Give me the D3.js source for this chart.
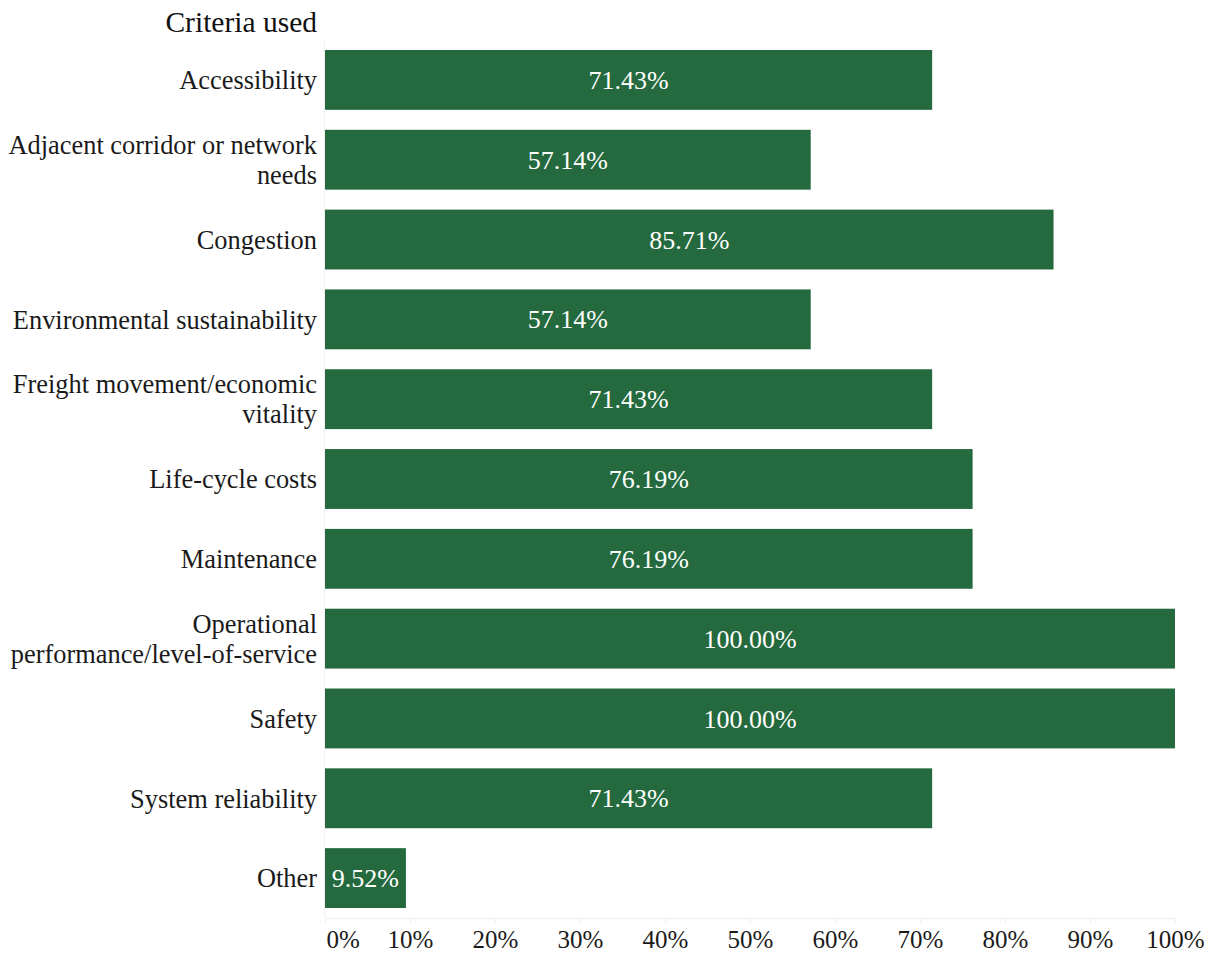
<!DOCTYPE html>
<html>
<head>
<meta charset="utf-8">
<script src="https://cdn.jsdelivr.net/npm/d3@7"></script>
<style>
  html, body { margin: 0; padding: 0; background: #fff; }
  svg { display: block; font-family: "Times New Roman", serif; }
</style>
</head>
<body>
<svg id="chart" width="1221" height="955"></svg>
<script>
// Share of respondents using each criterion
const categories = [
  ["Accessibility"],
  ["Adjacent corridor or network", "needs"],
  ["Congestion"],
  ["Environmental sustainability"],
  ["Freight movement/economic", "vitality"],
  ["Life-cycle costs"],
  ["Maintenance"],
  ["Operational", "performance/level-of-service"],
  ["Safety"],
  ["System reliability"],
  ["Other"]
];
const values = [71.43, 57.14, 85.71, 57.14, 71.43, 76.19, 76.19, 100.00, 100.00, 71.43, 9.52];
const tickValues = [0, 10, 20, 30, 40, 50, 60, 70, 80, 90, 100];
const title = "Criteria used";

const svg = d3.select("#chart");
const fontFamily = '"Times New Roman", serif';
const plotLeft = 325, plotRight = 1175, plotTop = 40, plotBottom = 918;
const barColor = "#256a3e";

const x = d3.scaleLinear().domain([0, 100]).range([plotLeft, plotRight]);
const y = d3.scaleBand().domain(d3.range(categories.length))
  .range([plotTop, plotBottom]).paddingInner(0.25).paddingOuter(0.125);

// faint left axis rule
svg.append("line")
  .attr("x1", plotLeft - 0.5).attr("x2", plotLeft - 0.5)
  .attr("y1", plotTop).attr("y2", plotBottom)
  .attr("stroke", "#f0f0f0").attr("stroke-width", 1);

// bottom axis
const xAxis = svg.append("g")
  .attr("transform", `translate(0,${plotBottom})`)
  .call(d3.axisBottom(x).tickValues(tickValues).tickFormat(d => d + "%").tickSizeOuter(0).tickSize(5).tickPadding(7));
xAxis.attr("font-family", null).attr("font-size", null);
xAxis.select(".domain").attr("stroke", "#f0f0f0");
xAxis.selectAll(".tick line").attr("stroke", "#f0f0f0");
xAxis.selectAll(".tick text")
  .style("font-family", fontFamily)
  .attr("font-size", 25).attr("fill", "#1a1a1a");
xAxis.selectAll(".tick").filter(d => d === 0).select("text")
  .attr("text-anchor", "start").attr("dx", 1);

// bars
svg.append("g").selectAll("rect")
  .data(values)
  .join("rect")
  .attr("x", x(0))
  .attr("y", (d, i) => y(i))
  .attr("width", d => x(d) - x(0))
  .attr("height", y.bandwidth())
  .attr("fill", barColor);

// value labels inside bars
svg.append("g").selectAll("text")
  .data(values)
  .join("text")
  .attr("x", d => (x(0) + x(d)) / 2)
  .attr("y", (d, i) => y(i) + y.bandwidth() / 2)
  .attr("dy", "0.35em")
  .attr("text-anchor", "middle")
  .attr("font-size", 26)
  .attr("fill", "#fff")
  .text(d => d.toFixed(2) + "%");

// category labels
const lineH = 30;
const cat = svg.append("g").selectAll("text")
  .data(categories)
  .join("text")
  .attr("text-anchor", "end")
  .attr("font-size", 26.4)
  .attr("fill", "#1a1a1a")
  .attr("y", (d, i) => y(i) + y.bandwidth() / 2 - (d.length - 1) * lineH / 2);
cat.selectAll("tspan")
  .data(d => d)
  .join("tspan")
  .attr("x", 317)
  .attr("dy", (d, i) => i === 0 ? "0.35em" : lineH)
  .text(d => d);

// header
svg.append("text")
  .attr("x", 317).attr("y", 32)
  .attr("text-anchor", "end")
  .attr("font-size", 29.5)
  .attr("fill", "#111")
  .text(title);
</script>
</body>
</html>
